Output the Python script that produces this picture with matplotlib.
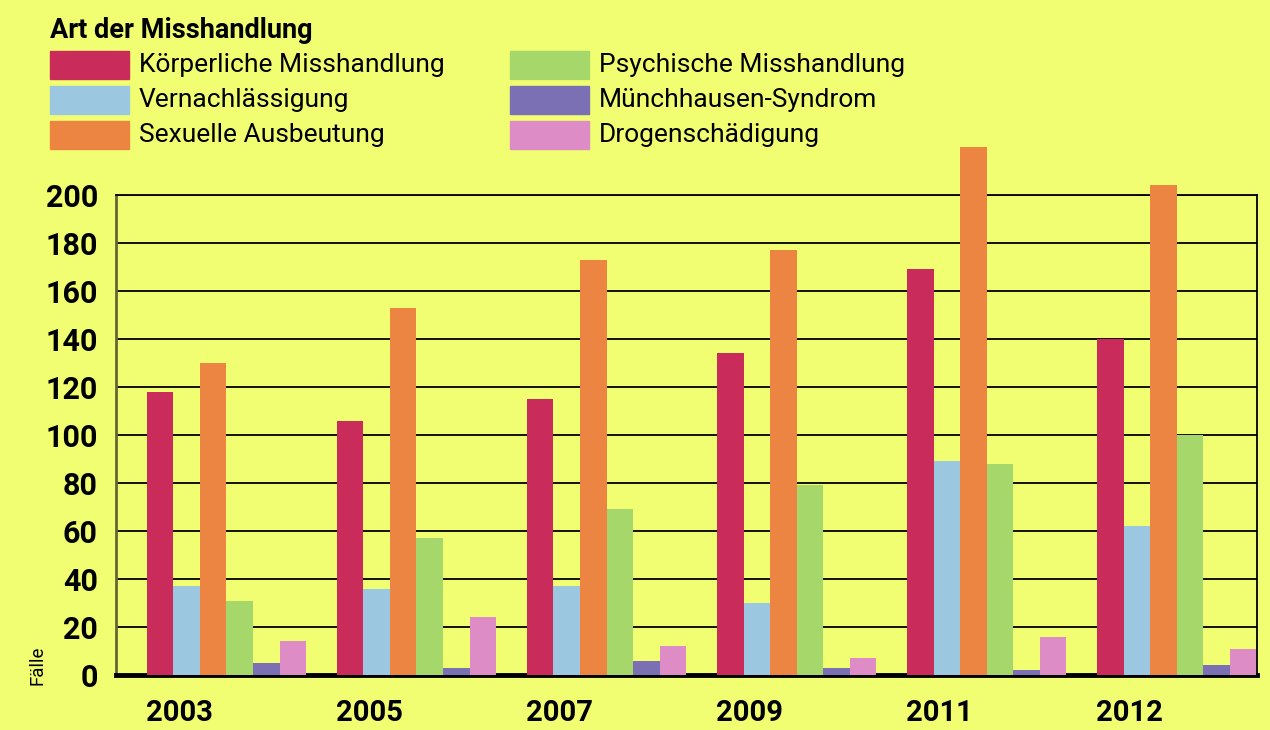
"""
Art der Misshandlung, Balkendiagramm
"""
import numpy as np
from matplotlib import pyplot as plt
from matplotlib.patches import Rectangle

plt.rcParams['font.family'] = ['Roboto', 'DejaVu Sans']

jahre = ["2003", "2005", "2007", "2009", "2011", "2012"]
kategorien = ["Körperliche Misshandlung", "Vernachlässigung", "Sexuelle Ausbeutung",
              "Psychische Misshandlung", "Münchhausen-Syndrom", "Drogenschädigung"]
farben = ["#C92B5A", "#9BC8E0", "#EC8442", "#A6D76A", "#7B70B4", "#DD8CC6"]

koerperlich = [118, 106, 115, 134, 169, 140]
vernachlaessigung = [37, 36, 37, 30, 89, 62]
sexuell = [130, 153, 173, 177, 220, 204]
psychisch = [31, 57, 69, 79, 88, 100]
muenchhausen = [5, 3, 6, 3, 2, 4]
drogen = [14, 24, 12, 7, 16, 11]
werte = [koerperlich, vernachlaessigung, sexuell, psychisch, muenchhausen, drogen]

bg = "#F1FE72"
fig = plt.figure(figsize=(12.7, 7.3), dpi=100, facecolor=bg)
ax = fig.add_axes([116/1270, 1 - 675/730, (1257-116)/1270, (675-195)/730])
ax.set_facecolor(bg)

x = np.arange(len(jahre))
w = 0.1395
for k in range(len(werte)):
    ax.bar(x + k*w, werte[k], width=w, align='edge', color=farben[k],
           clip_on=False, zorder=3)

ax.set_ylim(0, 200)
ax.set_xlim(-0.163, 5.842)
ax.set_yticks(np.arange(0, 201, 20))
ax.yaxis.grid(True, color="black", linewidth=1.3, zorder=1)
ax.set_axisbelow(True)
ax.tick_params(axis='y', length=0, pad=13, labelsize=22)
ax.tick_params(axis='x', length=0, pad=17, labelsize=21)
for t in ax.get_yticklabels() + ax.get_xticklabels():
    t.set_fontweight('bold')
ax.set_xticks(x + 0.17)
ax.set_xticklabels(jahre)

ax.spines['left'].set_color("#666633")
ax.spines['left'].set_linewidth(2)
ax.spines['bottom'].set_linewidth(3.5)
ax.spines['top'].set_linewidth(1.3)
ax.spines['right'].set_linewidth(1.3)

fig.text(38/1270, 1 - 665/730, "Fälle", rotation=90, fontsize=13.5,
         ha='center', va='center', color="black")

# Legende
fig.text(50/1270, 1 - 30/730, "Art der Misshandlung", fontsize=19.5,
         fontweight='bold', va='center', ha='left')
spalten_x = [50, 510]
zeilen_y = [65, 100, 135]
for k in range(len(kategorien)):
    px = spalten_x[k // 3]
    py = zeilen_y[k % 3]
    fig.patches.append(Rectangle((px/1270, 1 - (py+13.5)/730), 79/1270, 27/730,
                                 transform=fig.transFigure, color=farben[k]))
    fig.text((px + 89)/1270, 1 - py/730, kategorien[k], fontsize=19,
             va='center', ha='left')

plt.savefig("out.png", dpi=100, facecolor=bg)
